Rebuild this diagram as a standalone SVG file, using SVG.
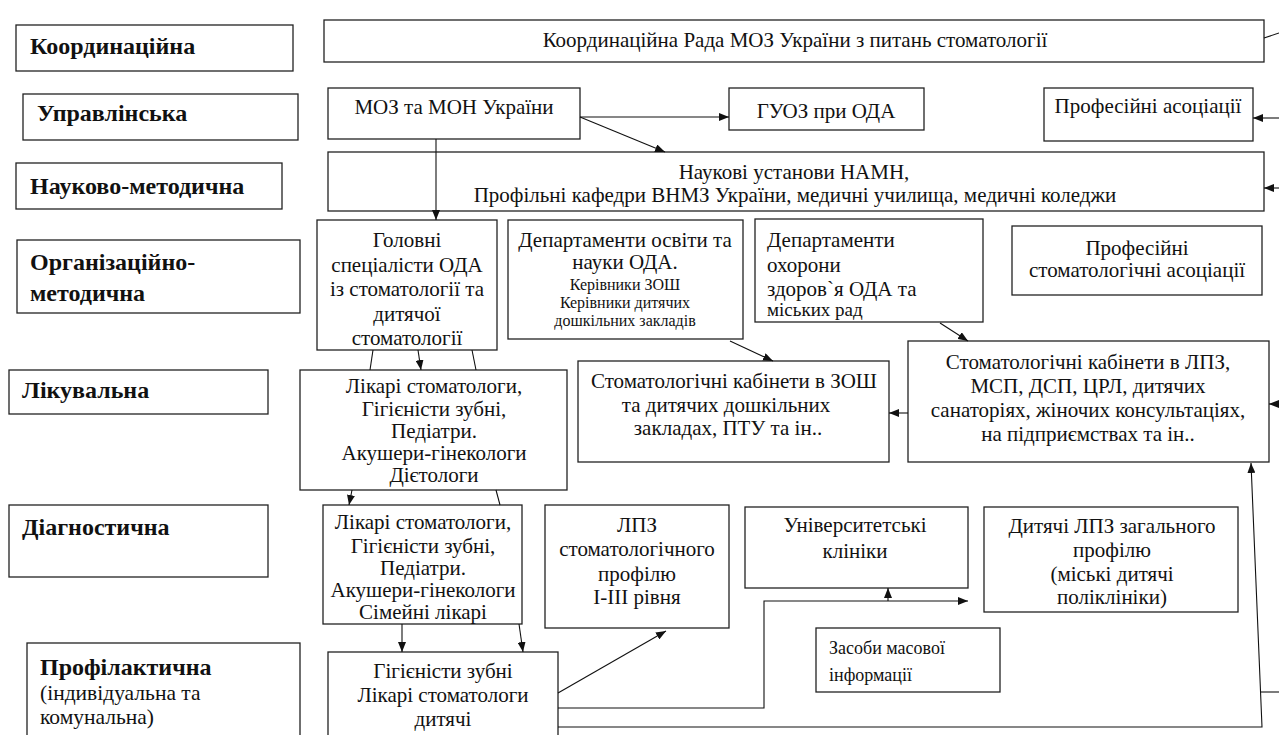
<svg xmlns="http://www.w3.org/2000/svg" width="1279" height="735" viewBox="0 0 1279 735">
<style>
rect{fill:#fff;stroke:#222;stroke-width:1.3}
text{font-family:"Liberation Serif","Times New Roman",serif;fill:#111;font-size:21px}
.lab{font-weight:bold;font-size:24px}
.reg{font-size:21.5px}
.c{text-anchor:middle}
.s{font-size:16px}
.m{font-size:18px}
.con line,.con path,.con polyline{stroke:#111;stroke-width:1.1;fill:none}
.a{marker-end:url(#ar)}
</style>
<defs>
<marker id="ar" markerWidth="10" markerHeight="8" refX="10" refY="4" orient="auto" markerUnits="userSpaceOnUse">
<path d="M0,0 L10,4 L0,8 Z" fill="#111"/>
</marker>
</defs>
<rect width="1279" height="735" style="fill:#fff;stroke:none"/>

<g id="l-coord"><rect x="16" y="25" width="277" height="46"/><text class="lab" x="30" y="54">Координаційна</text></g>
<g id="l-upr"><rect x="23" y="94" width="275" height="46"/><text class="lab" x="37" y="121">Управлінська</text></g>
<g id="l-nauk"><rect x="16" y="163" width="266" height="46"/><text class="lab" x="30" y="194">Науково-методична</text></g>
<g id="l-org"><rect x="17" y="240" width="283" height="73"/><text class="lab" x="30" y="270">Організаційно-</text><text class="lab" x="30" y="301">методична</text></g>
<g id="l-lik"><rect x="9" y="370" width="259" height="44"/><text class="lab" x="22" y="398">Лікувальна</text></g>
<g id="l-diag"><rect x="9" y="505" width="259" height="72"/><text class="lab" x="22" y="535">Діагностична</text></g>
<g id="l-prof"><rect x="27" y="643" width="273" height="100"/><text class="lab" x="40" y="675">Профілактична</text><text class="reg" x="40" y="700">(індивідуальна та</text><text class="reg" x="40" y="724"> комунальна)</text></g>

<g id="rada"><rect x="324" y="20" width="940" height="42"/><text class="c" x="795" y="47">Координаційна Рада МОЗ України з питань стоматології</text></g>
<g id="moz"><rect x="328" y="88" width="252" height="51"/><text class="c" x="454" y="114">МОЗ та МОН України</text></g>
<g id="guoz"><rect x="729" y="88" width="195" height="42"/><text class="c" x="826" y="118">ГУОЗ при ОДА</text></g>
<g id="prof-as"><rect x="1044" y="88" width="209" height="53"/><text class="c" x="1148" y="113">Професійні асоціації</text></g>
<g id="nauk"><rect x="328" y="152" width="936" height="59"/><text class="c" x="794" y="179">Наукові установи НАМН,</text><text class="c" x="795" y="202">Профільні кафедри ВНМЗ України, медичні училища, медичні коледжи</text></g>
<g id="golov"><rect x="317" y="220" width="180" height="130"/>
<text class="c" x="407" y="247">Головні</text><text class="c" x="407" y="272">спеціалісти ОДА</text><text class="c" x="407" y="296">із стоматології та</text><text class="c" x="407" y="321">дитячої</text><text class="c" x="407" y="345">стоматології</text></g>
<g id="dep-osv"><rect x="508" y="220" width="235" height="119"/>
<text class="c" x="625" y="247">Департаменти освіти та</text><text class="c" x="625" y="269">науки ОДА.</text><text class="c s" x="625" y="290">Керівники ЗОШ</text><text class="c s" x="625" y="308">Керівники дитячих</text><text class="c s" x="625" y="326">дошкільних закладів</text></g>
<g id="dep-oh"><rect x="755" y="219" width="228" height="103"/>
<text x="767" y="247">Департаменти</text><text x="767" y="272">охорони</text><text x="767" y="296">здоров`я  ОДА та</text><text x="767" y="316" style="font-size:19px">міських рад</text></g>
<g id="prof-st"><rect x="1012" y="226" width="250" height="69"/><text class="c" x="1137" y="255">Професійні</text><text class="c" x="1137" y="277">стоматологічні асоціації</text></g>
<g id="kab-zosh"><rect x="578" y="361" width="311" height="101"/>
<text class="c" x="734" y="388">Стоматологічні кабінети в ЗОШ</text><text class="c" x="726" y="412">та дитячих дошкільних</text><text class="c" x="728" y="435">закладах, ПТУ та ін..</text></g>
<g id="kab-lpz"><rect x="908" y="341" width="361" height="121"/>
<text class="c" x="1088" y="369">Стоматологічні кабінети в ЛПЗ,</text><text class="c" x="1088" y="393">МСП, ДСП, ЦРЛ, дитячих</text><text class="c" x="1088" y="417">санаторіях, жіночих консультаціях,</text><text class="c" x="1088" y="441">на підприємствах та ін..</text></g>
<g id="likari1"><rect x="300" y="370" width="267" height="120"/>
<text class="c" x="434" y="393">Лікарі стоматологи,</text><text class="c" x="434" y="416">Гігієністи зубні,</text><text class="c" x="434" y="438">Педіатри.</text><text class="c" x="434" y="460">Акушери-гінекологи</text><text class="c" x="434" y="482">Дієтологи</text></g>
<g id="likari2"><rect x="323" y="505" width="199" height="119"/>
<text class="c" x="423" y="529">Лікарі стоматологи,</text><text class="c" x="423" y="553">Гігієністи зубні,</text><text class="c" x="423" y="575">Педіатри.</text><text class="c" x="423" y="597">Акушери-гінекологи</text><text class="c" x="423" y="619">Сімейні лікарі</text></g>
<g id="gig"><rect x="328" y="652" width="230" height="90"/>
<text class="c" x="443" y="678">Гігієністи зубні</text><text class="c" x="443" y="702">Лікарі стоматологи</text><text class="c" x="443" y="726">дитячі</text></g>
<g id="lpz-st"><rect x="545" y="505" width="184" height="123"/>
<text class="c" x="637" y="532">ЛПЗ</text><text class="c" x="637" y="556">стоматологічного</text><text class="c" x="637" y="581">профілю</text><text class="c" x="637" y="604">І-ІІІ рівня</text></g>
<g id="univ"><rect x="745" y="507" width="223" height="81"/><text class="c" x="855" y="532">Університетські</text><text class="c" x="855" y="558">клініки</text></g>
<g id="dyt"><rect x="984" y="507" width="254" height="105"/>
<text class="c" x="1112" y="533">Дитячі ЛПЗ загального</text><text class="c" x="1112" y="557">профілю</text><text class="c" x="1112" y="581">(міські дитячі</text><text class="c" x="1112" y="604">поліклініки)</text></g>
<g id="zmi"><rect x="816" y="628" width="184" height="64"/><text class="m" x="829" y="654">Засоби масової</text><text class="m" x="829" y="681">інформації</text></g>

<g class="con" id="connectors">
<line class="a" x1="580" y1="117" x2="729" y2="117"/>
<line class="a" x1="580" y1="117" x2="665" y2="152"/>
<line class="a" x1="436" y1="139" x2="436" y2="220"/>
<line x1="1264" y1="38" x2="1279" y2="33"/>
<line class="a" x1="1279" y1="118" x2="1253" y2="118"/>
<line class="a" x1="1279" y1="188" x2="1264" y2="188"/>
<line class="a" x1="1279" y1="404" x2="1269" y2="404"/>
<line class="a" x1="908" y1="413" x2="889" y2="413"/>
<line class="a" x1="730" y1="341" x2="773" y2="361"/>
<line class="a" x1="940" y1="323" x2="968" y2="341"/>
<line x1="373" y1="350" x2="370" y2="370"/>
<line class="a" x1="418" y1="350" x2="421" y2="370"/>
<line x1="472" y1="350" x2="476" y2="370"/>
<line class="a" x1="352" y1="490" x2="349" y2="505"/>
<line x1="496" y1="490" x2="500" y2="505"/>
<line class="a" x1="402" y1="624" x2="402" y2="652"/>
<line class="a" x1="519" y1="624" x2="523" y2="652"/>
<line class="a" x1="558" y1="693" x2="666" y2="631"/>
<polyline class="a" points="558,708 764,708 764,601 968,601"/>
<line class="a" x1="888" y1="601" x2="888" y2="588"/>
<polyline class="a" points="558,727 1262,727 1251,463"/>
<line x1="1260" y1="692" x2="1279" y2="692"/>
</g>
</svg>
